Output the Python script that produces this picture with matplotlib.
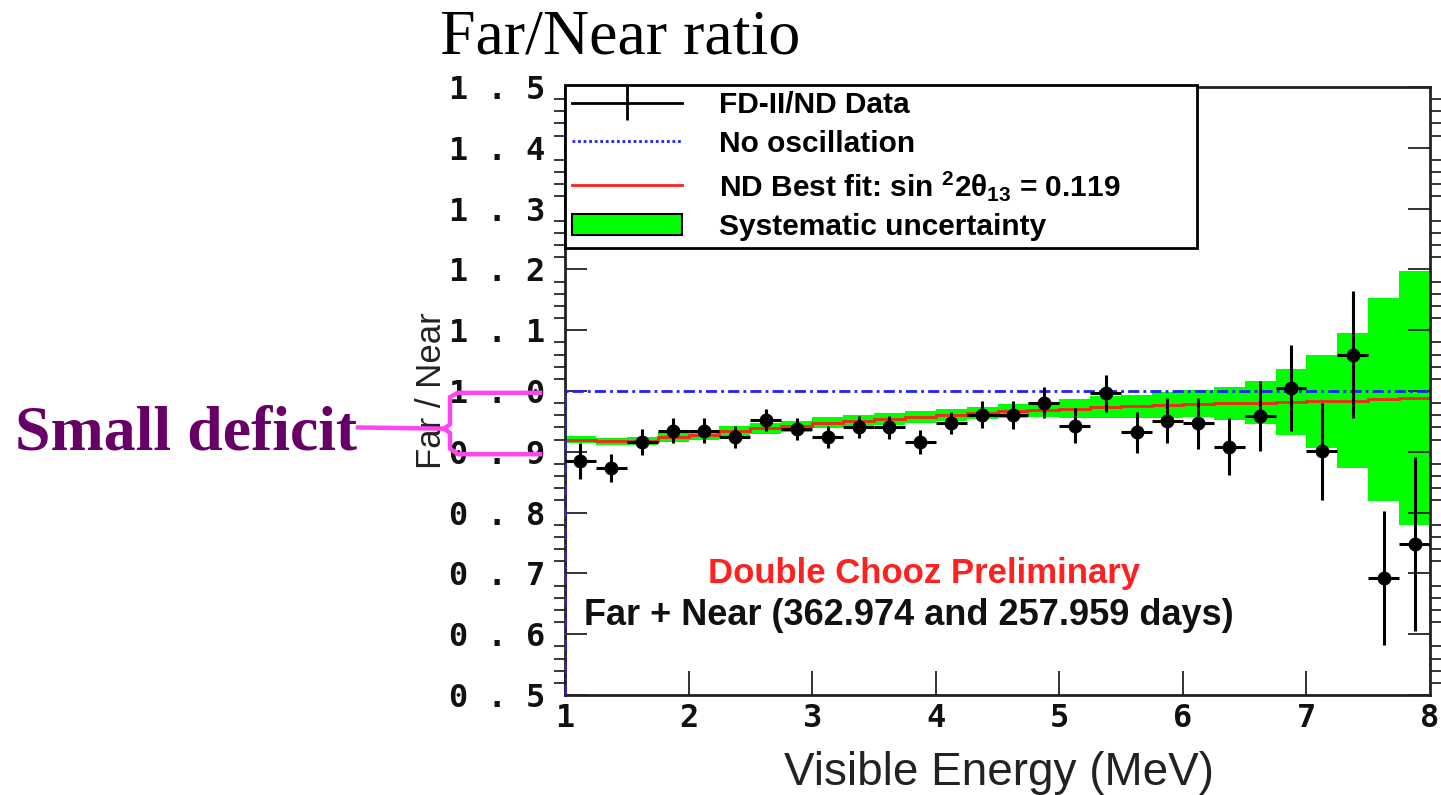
import matplotlib

matplotlib.use("Agg")
import matplotlib.pyplot as plt
import matplotlib.transforms as mtransforms
import numpy as np
from matplotlib.lines import Line2D
from matplotlib.patches import Patch
from matplotlib.ticker import FixedLocator, FuncFormatter, MultipleLocator, NullLocator

# 0.25 MeV bins from 1 to 8 MeV
bin_edges = np.arange(1.0, 8.001, 0.25)
bin_centers = 0.5 * (bin_edges[:-1] + bin_edges[1:])

# FD-II/ND data points and statistical errors
ratio = [0.885, 0.873, 0.916, 0.935, 0.935, 0.924, 0.953, 0.937, 0.925, 0.941,
         0.940, 0.916, 0.947, 0.961, 0.961, 0.981, 0.943, 0.996, 0.932, 0.951,
         0.947, 0.908, 0.959, 1.005, 0.901, 1.060, 0.692, 0.748]
ratio_err = [0.029, 0.023, 0.021, 0.021, 0.021, 0.018, 0.018, 0.018, 0.018, 0.018,
             0.019, 0.020, 0.018, 0.022, 0.023, 0.025, 0.029, 0.031, 0.034, 0.037,
             0.042, 0.047, 0.058, 0.070, 0.080, 0.105, 0.110, 0.143]

# ND best fit prediction and systematic half-width
best_fit = [0.920, 0.917, 0.918, 0.924, 0.928, 0.934, 0.939, 0.942, 0.948, 0.951,
            0.954, 0.957, 0.961, 0.964, 0.967, 0.969, 0.971, 0.974, 0.975, 0.977,
            0.979, 0.980, 0.981, 0.982, 0.983, 0.984, 0.986, 0.988]
syst = [0.006, 0.006, 0.007, 0.008, 0.008, 0.009, 0.009, 0.009, 0.009, 0.0095,
        0.0095, 0.010, 0.010, 0.010, 0.011, 0.012, 0.015, 0.018, 0.019, 0.021,
        0.022, 0.027, 0.036, 0.054, 0.076, 0.111, 0.167, 0.209]
no_osc = [1.0] * 28

y_ticks = [0.5, 0.6, 0.7, 0.8, 0.9, 1.0, 1.1, 1.2, 1.3, 1.4, 1.5]
x_ticks = [1, 2, 3, 4, 5, 6, 7, 8]

GREEN, RED, BLUE = "#00ff00", "#ff2020", "#2020ff"
MONO = "DejaVu Sans Mono"
SANS = "Liberation Sans"
SERIF = "Liberation Serif"

plt.rcParams["mathtext.fontset"] = "custom"
plt.rcParams["mathtext.rm"] = "Liberation Sans:bold"
plt.rcParams["mathtext.it"] = "Liberation Sans:bold"
plt.rcParams["mathtext.bf"] = "Liberation Sans:bold"

fig = plt.figure(figsize=(14.41, 7.95), dpi=100)
ax = fig.add_axes([0.3921, 0.1258, 0.6003, 0.7648])

best_fit = np.array(best_fit)
syst = np.array(syst)
ax.stairs(best_fit + syst, bin_edges, baseline=best_fit - syst, fill=True,
          color=GREEN, lw=0, zorder=1)
ax.stairs(best_fit, bin_edges, baseline=0.5, color=RED, lw=2, zorder=2)
ax.stairs(no_osc, bin_edges, baseline=0.5, color=BLUE, lw=2,
          linestyle=(0, (4, 1.5, 1, 1.5)), zorder=3)
ax.errorbar(bin_centers, ratio, xerr=0.125, yerr=ratio_err, fmt="o", color="k",
            ms=9, elinewidth=2.2, capsize=0, zorder=4)

ax.set_xlim(1, 8)
ax.set_ylim(0.5, 1.5)
ax.xaxis.set_major_locator(FixedLocator(x_ticks))
ax.xaxis.set_minor_locator(NullLocator())
ax.yaxis.set_major_locator(FixedLocator(y_ticks))
ax.yaxis.set_minor_locator(MultipleLocator(0.02))
ax.yaxis.set_major_formatter(FuncFormatter(lambda v, _: " . ".join(f"{v:.1f}".split("."))))
ax.tick_params(axis="both", direction="in", width=1.3, colors="#222222")
ax.tick_params(axis="y", which="major", length=16, right=True, pad=14,
               labelsize=23)
ax.tick_params(axis="y", which="minor", length=8, right=True, width=1.1)
ax.tick_params(axis="x", which="major", length=17, pad=6, labelsize=23)
for lab in ax.get_xticklabels() + ax.get_yticklabels():
    lab.set_fontfamily(MONO)
    lab.set_fontweight("bold")
    lab.set_color("#111111")
for sp in ax.spines.values():
    sp.set_linewidth(2)
    sp.set_color("#222222")

ax.set_xlabel("Visible Energy (MeV)", fontsize=33, family=SANS, color="#222222")
ax.xaxis.set_label_coords(0.502, -0.092)
ax.set_ylabel("Far / Near", fontsize=25, family=SANS, color="#222222")
ax.yaxis.set_label_coords(-0.135, 0.5)

handles = [
    Line2D([], [], color="k", lw=2, marker="|", ms=24, mew=2),
    Line2D([], [], color=BLUE, lw=2, linestyle=(0, (1, 1))),
    Line2D([], [], color=RED, lw=2),
    Patch(facecolor=GREEN, edgecolor="k", lw=1.5),
]
labels = ["FD-II/ND Data", "No oscillation",
          r"ND Best fit: sin $^{2}$2$\theta_{13}$ = 0.119",
          "Systematic uncertainty"]
leg = ax.legend(handles, labels, loc="upper left", mode="expand",
                bbox_to_anchor=(0, 0, 0.7306, 1.004), borderaxespad=0,
                prop={"family": SANS, "weight": "bold", "size": 21.5},
                fancybox=False, framealpha=1, edgecolor="k", numpoints=1,
                handlelength=3.7, handletextpad=1.25, labelspacing=0.36,
                borderpad=0.22)
leg.get_frame().set_linewidth(2)
leg.set_zorder(10)

ax.text(0.415, 0.20, "Double Chooz Preliminary", transform=ax.transAxes,
        ha="center", va="center", color=RED, fontsize=25, weight="bold",
        family=SANS)
ax.text(0.398, 0.131, "Far + Near (362.974 and 257.959 days)",
        transform=ax.transAxes, ha="center", va="center", color="#111111",
        fontsize=26, weight="bold", family=SANS)

fig.text(620 / 1441, 1 - 38 / 795, "Far/Near ratio", ha="center", va="center",
         fontsize=46, family=SERIF)

# bracket pointing at the 1.0 and 0.9 levels
btrans = mtransforms.blended_transform_factory(fig.transFigure, ax.transData)
fig.text(15 / 1441, 0.929, "Small deficit", transform=btrans, ha="left",
         va="center", fontsize=46, family=SERIF, weight="bold", color="#660066")
bx = np.array([540, 458, 450, 450, 444, 450, 450, 458, 540]) / 1441
by = [0.997, 0.997, 0.99, 0.945, 0.938, 0.931, 0.905, 0.896, 0.896]
fig.add_artist(Line2D(bx, by, transform=btrans, color="#ff44f0", lw=3.2,
                      solid_joinstyle="round", clip_on=False))
fig.add_artist(Line2D(np.array([358, 446]) / 1441, [0.94, 0.938], transform=btrans,
                      color="#ff44f0", lw=3.2, clip_on=False))

fig.savefig("out.png", dpi=100)
